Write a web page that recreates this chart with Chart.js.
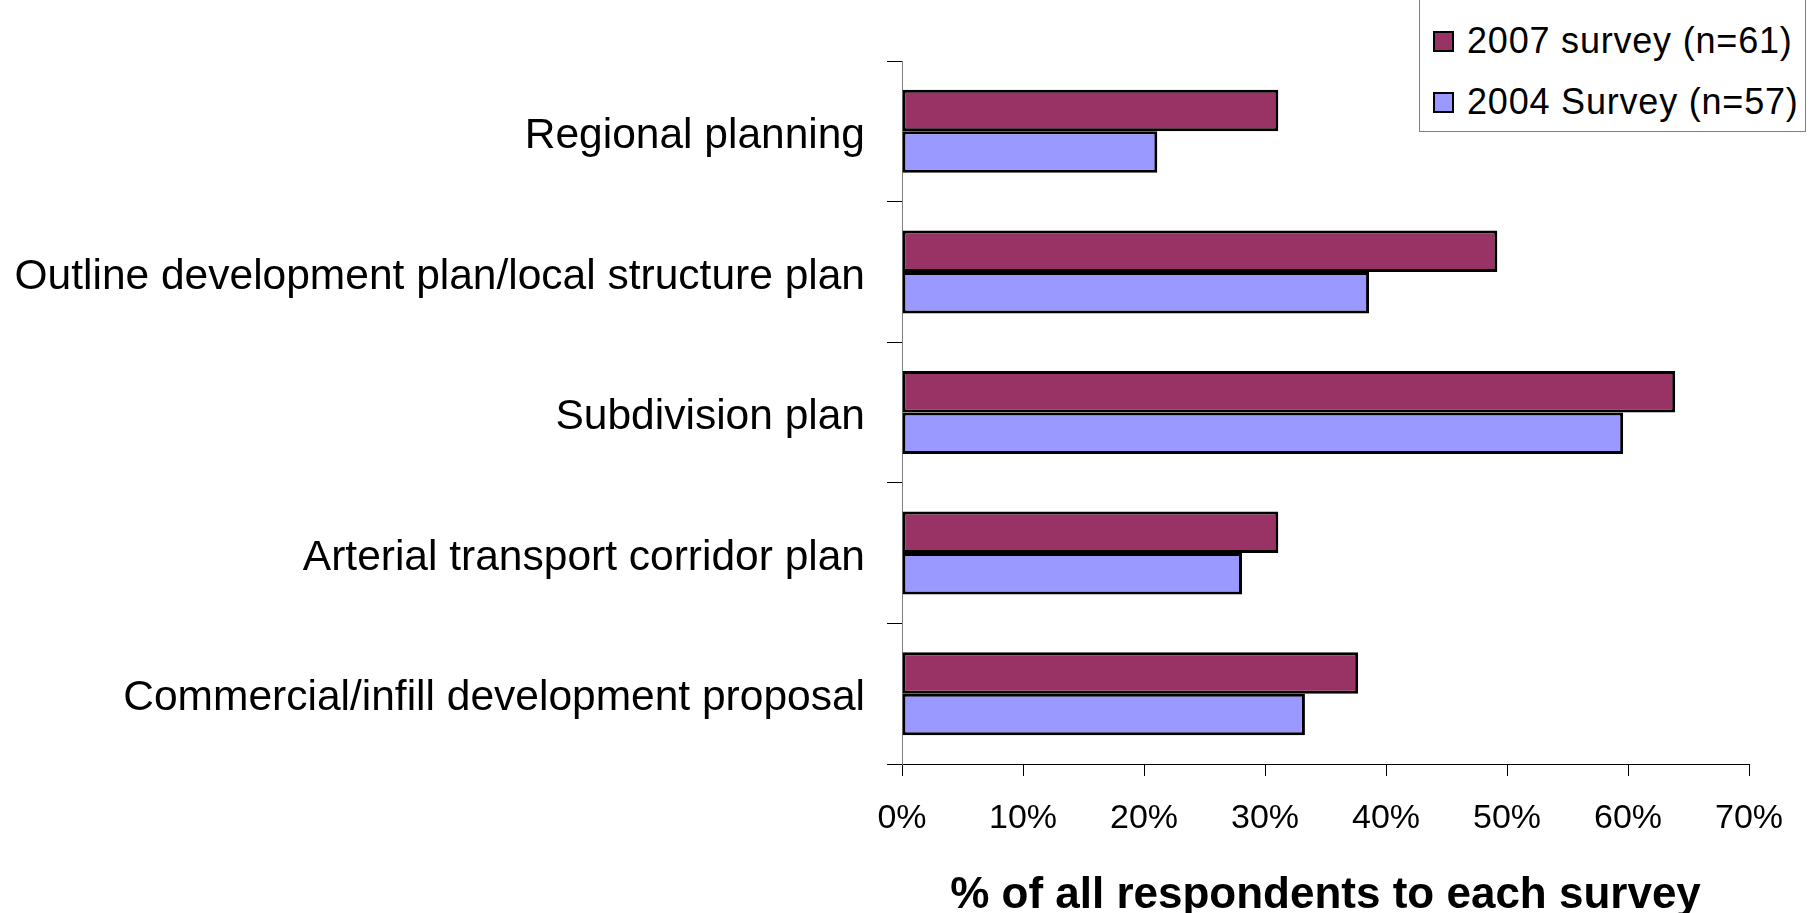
<!DOCTYPE html>
<html>
<head>
<meta charset="utf-8">
<script src="https://cdn.jsdelivr.net/npm/chart.js@4"></script>
<style>
  html, body { margin: 0; padding: 0; background: #fff; overflow: hidden; }
  #wrap { position: relative; width: 1810px; height: 913px; }
  #legend {
    position: absolute; left: 1419px; top: -1px; width: 385px; height: 131px;
    border: 1px solid #808080; background: #fff;
    font-family: "Liberation Sans", Arial, sans-serif; font-size: 36px; letter-spacing: 0.8px;
  }
  .row { position: absolute; left: 13px; height: 40px; display: flex; align-items: center; white-space: nowrap; }
  .box { width: 17px; height: 17px; border: 2px solid #000; margin-right: 13px; }
</style>
</head>
<body>
<div id="wrap">
  <canvas id="chart"></canvas>
  <div id="legend"></div>
</div>
<script>
// data
const categories = [
  "Regional planning",
  "Outline development plan/local structure plan",
  "Subdivision plan",
  "Arterial transport corridor plan",
  "Commercial/infill development proposal"
];
const survey2007 = [31.1, 49.2, 63.9, 31.1, 37.7];
const survey2004 = [21.1, 38.6, 59.6, 28.1, 33.3];
const seriesNames = ["2007 survey (n=61)", "2004 Survey (n=57)"];
const seriesColors = ["#993366", "#9999FF"];
const xTicks = [0, 10, 20, 30, 40, 50, 60, 70];
const xTitle = "% of all respondents to each survey";

Chart.defaults.font.family = '"Liberation Sans", Arial, sans-serif';
Chart.defaults.color = "#000";

const ctx = document.getElementById("chart");
ctx.parentNode.style.height = "913px";

new Chart(ctx, {
  type: "bar",
  data: {
    labels: categories,
    datasets: [
      {
        label: seriesNames[0],
        data: survey2007,
        backgroundColor: seriesColors[0],
        borderColor: "#000",
        borderWidth: 3,
        borderSkipped: false,
      },
      {
        label: seriesNames[1],
        data: survey2004,
        backgroundColor: seriesColors[1],
        borderColor: "#000",
        borderWidth: 3,
        borderSkipped: false,
      },
    ],
  },
  options: {
    indexAxis: "y",
    responsive: true,
    maintainAspectRatio: false,
    animation: false,
    datasets: { bar: { categoryPercentage: 0.59, barPercentage: 1.0 } },
    layout: { padding: { left: 0, right: 61, top: 61, bottom: 0 } },
    plugins: { legend: { display: false }, tooltip: { enabled: false } },
    scales: {
      x: {
        min: xTicks[0],
        max: xTicks[xTicks.length - 1],
        afterBuildTicks: (s) => { s.ticks = xTicks.map((v) => ({ value: v })); },
        afterFit: (s) => { s.height = 149; },
        border: { color: "#000", width: 1 },
        grid: { drawOnChartArea: false, drawTicks: true, tickLength: 12, color: "#000" },
        ticks: {
          padding: 22,
          font: { size: 34 },
          color: "#000",
          maxRotation: 0,
          callback: (v) => v + "%",
        },
        title: {
          display: true,
          text: xTitle,
          font: { size: 44, weight: "bold" },
          color: "#000",
          padding: { top: 0, bottom: -9 },
        },
      },
      y: {
        afterFit: (s) => { s.width = 902; },
        border: { color: "#808080", width: 1 },
        grid: { offset: true, drawOnChartArea: false, drawTicks: true, tickLength: 15, color: "#000" },
        ticks: { padding: 22, labelOffset: 5, font: { size: 42.5 }, color: "#000" },
      },
    },
  },
});

// legend box, top right
const legend = document.getElementById("legend");
const rowTops = [21, 82];
seriesNames.forEach((name, i) => {
  const row = document.createElement("div");
  row.className = "row";
  row.style.top = rowTops[i] + "px";
  row.innerHTML = `<span class="box" style="background:${seriesColors[i]}"></span><span>${name}</span>`;
  legend.appendChild(row);
});
</script>
</body>
</html>
